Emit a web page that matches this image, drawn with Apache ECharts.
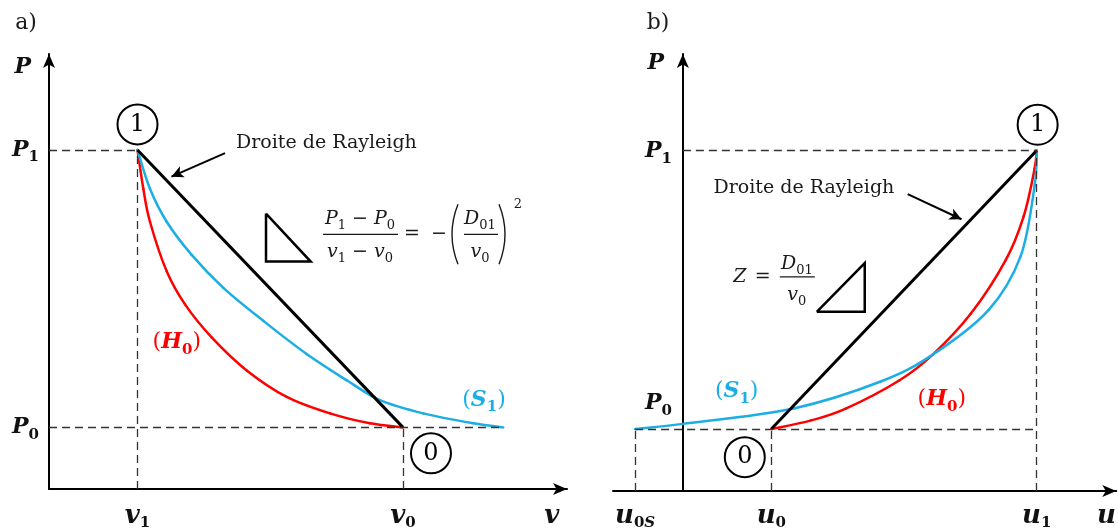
<!DOCTYPE html>
<html>
<head>
<meta charset="utf-8">
<script src="https://cdn.jsdelivr.net/npm/echarts@6/dist/echarts.min.js"></script>
<style>
  html, body { margin: 0; padding: 0; background: #fff; }
  #main { width: 1119px; height: 531px; }
</style>
</head>
<body>
<div id="main"></div>
<script>
// valeurs (unités arbitraires)
const P0 = 1, P1 = 5.5;
const v1 = 1, v0 = 4;
const u0s = -0.54, u0 = 1, u1 = 4;

// a) plan (v, P)
const h0A = [[1, 5.5], [1.066, 4.871], [1.141, 4.336], [1.33, 3.532], [1.537, 2.995], [1.838, 2.46], [2.234, 1.924], [2.686, 1.495], [3.175, 1.227], [3.627, 1.066], [4, 1]];
const s1A = [[1, 5.5], [1.141, 4.871], [1.33, 4.336], [1.612, 3.799], [1.97, 3.264], [2.422, 2.728], [2.911, 2.191], [3.364, 1.764], [3.74, 1.442], [4.229, 1.227], [4.795, 1.066], [5.133, 1]];
const rayleighA = [[v1, P1], [v0, P0]];
const triA = [[2.452, 4.469], [2.452, 3.69], [2.957, 3.69], [2.452, 4.469]];
const arrowA = [[1.989, 5.45], [1.383, 5.068]];
const statesA = [['1', 1, 5.916], ['0', 4.316, 0.579]];

// b) plan (u, P)
const s1B = [[u0s, 1], [0, 1.084], [1.254, 1.334], [2.237, 1.768], [2.825, 2.203], [3.458, 2.926], [3.819, 3.794], [3.977, 4.936], [4, 5.5]];
const h0B = [[1, 1], [1.45, 1.14], [1.842, 1.33], [2.441, 1.78], [2.825, 2.203], [3.254, 2.862], [3.65, 3.73], [3.853, 4.437], [3.977, 5.209], [4, 5.5]];
const rayleighB = [[u0, P0], [u1, P1]];
const triB = [[1.514, 2.894], [2.056, 2.894], [2.056, 3.682], [1.514, 2.894]];
const arrowB = [[2.542, 4.796], [3.15, 4.389]];
const statesB = [['1', 4.011, 5.916], ['0', 0.7, 0.547]];

// étiquettes des axes
const pTicksA = [P0, P1, 6.85];
const pLabelsA = ['P0', 'P1', 'P'];
const vTicks = [v1, v0, 5.68];
const vLabels = ['v1', 'v0', 'v'];
const pTicksB = [1.41, 5.48, 6.91];
const pLabelsB = ['P0', 'P1', 'P'];
const uTicks = [u0s, u0, u1, 4.79];
const uLabels = ['u0S', 'u0', 'u1', 'u'];

const RED = '#ff0000';
const BLUE = '#1aaee5';
const SERIF = 'DejaVu Serif';

const labelRich = {
  m: { fontFamily: SERIF, fontStyle: 'italic', fontWeight: 'bold', fontSize: 22, lineHeight: 30, color: '#111' },
  mp: { fontFamily: SERIF, fontStyle: 'italic', fontWeight: 'bold', fontSize: 22, lineHeight: 30, color: '#111', padding: [0, 8, 0, 0] },
  b: { fontFamily: SERIF, fontStyle: 'italic', fontWeight: 'bold', fontSize: 26, lineHeight: 30, color: '#111' },
  s: { fontFamily: SERIF, fontWeight: 'bold', fontSize: 15, lineHeight: 15, verticalAlign: 'bottom', color: '#111' },
  si: { fontFamily: SERIF, fontStyle: 'italic', fontWeight: 'bold', fontSize: 15, lineHeight: 15, verticalAlign: 'bottom', color: '#111' }
};

const fmtLabel = (name) => {
  if (name === 'P') return '{mp|P}';
  const big = name[0] === 'P' ? 'm' : 'b';
  let out = '{' + big + '|' + name[0] + '}';
  if (name[1]) out += '{s|' + name[1] + '}';
  if (name[2]) out += '{si|' + name[2] + '}';
  return out;
};
const tickFormatter = (ticks, labels) => (val) => {
  const i = ticks.findIndex(t => Math.abs(t - val) < 1e-6);
  return i < 0 ? '' : fmtLabel(labels[i]);
};

const axisLine = {
  onZero: true,
  symbol: ['none', 'arrow'],
  symbolSize: [9, 14],
  lineStyle: { color: '#000', width: 2 }
};

const dashStyle = { color: '#333', width: 1.3, type: [8, 5] };
const dashed = (segs, idx) => ({
  type: 'line', xAxisIndex: idx, yAxisIndex: idx, data: [], z: 1, silent: true,
  markLine: {
    silent: true, symbol: ['none', 'none'], label: { show: false },
    lineStyle: dashStyle, emphasis: { disabled: true },
    data: segs.map(s => [{ coord: s[0] }, { coord: s[1] }])
  }
});
const poly = (data, color, idx, width) => ({
  type: 'line', xAxisIndex: idx, yAxisIndex: idx, data,
  symbol: 'none', z: 3, silent: true, lineStyle: { color, width, join: 'miter' }
});
// courbe lisse (Catmull-Rom -> Bézier) passant par les points lus
const smoothCurve = (pts, color, idx) => ({
  type: 'custom', xAxisIndex: idx, yAxisIndex: idx, z: 3, silent: true, clip: false,
  data: pts,
  renderItem: (params, api) => {
    const i = params.dataIndex;
    if (i >= pts.length - 1) return null;
    const c = k => api.coord(pts[Math.max(0, Math.min(pts.length - 1, k))]);
    const p0 = c(i - 1), p1 = c(i), p2 = c(i + 1), p3 = c(i + 2);
    return {
      type: 'bezierCurve',
      shape: {
        x1: p1[0], y1: p1[1], x2: p2[0], y2: p2[1],
        cpx1: p1[0] + (p2[0] - p0[0]) / 6, cpy1: p1[1] + (p2[1] - p0[1]) / 6,
        cpx2: p2[0] - (p3[0] - p1[0]) / 6, cpy2: p2[1] - (p3[1] - p1[1]) / 6
      },
      style: { stroke: color, lineWidth: 2.5, fill: null, lineCap: 'round' }
    };
  }
});
const arrow = (pts, idx) => ({
  type: 'line', xAxisIndex: idx, yAxisIndex: idx, data: [], z: 4, silent: true,
  markLine: {
    silent: true, symbol: ['none', 'arrow'], symbolSize: [9, 12], label: { show: false },
    lineStyle: { color: '#000', width: 2, type: 'solid' }, emphasis: { disabled: true },
    data: [[{ coord: pts[0] }, { coord: pts[1] }]]
  }
});
const states = (list, idx) => ({
  type: 'scatter', xAxisIndex: idx, yAxisIndex: idx, z: 6, silent: true,
  symbolSize: 40,
  itemStyle: { color: '#fff', borderColor: '#000', borderWidth: 2, opacity: 1 },
  label: { show: true, position: 'inside', formatter: p => p.name, color: '#000', fontFamily: SERIF, fontSize: 24 },
  data: list.map(s => ({ name: s[0], value: [s[1], s[2]] }))
});

const option = {
  animation: false,
  backgroundColor: '#fff',
  grid: [
    { left: 49, right: 552, top: 54, bottom: 38 },
    { left: 613, right: 2, top: 54, bottom: 38 }
  ],
  xAxis: [
    { type: 'value', gridIndex: 0, min: 0, max: 5.853, axisLine, axisTick: { show: false }, splitLine: { show: false },
      axisLabel: { customValues: vTicks, margin: 12, formatter: tickFormatter(vTicks, vLabels), rich: labelRich } },
    { type: 'value', gridIndex: 1, min: -0.79, max: 4.9, axisLine, axisTick: { show: false }, splitLine: { show: false },
      axisLabel: { customValues: uTicks, margin: 10, formatter: tickFormatter(uTicks, uLabels), rich: labelRich } }
  ],
  yAxis: [
    { type: 'value', gridIndex: 0, min: 0, max: 7.058, axisLine, axisTick: { show: false }, splitLine: { show: false },
      axisLabel: { customValues: pTicksA, margin: 10, formatter: tickFormatter(pTicksA, pLabelsA), rich: labelRich } },
    { type: 'value', gridIndex: 1, min: 0, max: 7.058, axisLine, axisTick: { show: false }, splitLine: { show: false },
      axisLabel: { customValues: pTicksB, margin: -59, formatter: tickFormatter(pTicksB, pLabelsB), rich: labelRich } }
  ],
  series: [
    dashed([
      [[0, P1], [v1, P1]], [[v1, 0], [v1, P1]],
      [[0, P0], [s1A[s1A.length - 1][0], P0]], [[v0, 0], [v0, P0]]
    ], 0),
    smoothCurve(h0A, RED, 0),
    smoothCurve(s1A, BLUE, 0),
    poly(rayleighA, '#000', 0, 3),
    poly(triA, '#000', 0, 2.5),
    arrow(arrowA, 0),
    states(statesA, 0),

    dashed([
      [[0, P1], [u1, P1]], [[u1, 0], [u1, P1]],
      [[u0s, P0], [u1, P0]], [[u0s, 0], [u0s, P0]], [[u0, 0], [u0, P0]]
    ], 1),
    smoothCurve(h0B, RED, 1),
    smoothCurve(s1B, BLUE, 1),
    poly(rayleighB, '#000', 1, 3),
    poly(triB, '#000', 1, 2.5),
    arrow(arrowB, 1),
    states(statesB, 1)
  ]
};

const chart = echarts.init(document.getElementById('main'));
chart.setOption(option);

// annotations (ancrées en coordonnées de données)
const at = (g, x, y) => chart.convertToPixel({ gridIndex: g }, [x, y]);
const INK = '#1a1a1a';
const fRich = {
  i: { fontFamily: SERIF, fontStyle: 'italic', fontSize: 19, lineHeight: 26, fill: INK },
  n: { fontFamily: SERIF, fontSize: 19, lineHeight: 26, fill: INK },
  s: { fontFamily: SERIF, fontSize: 13, lineHeight: 13, verticalAlign: 'bottom', fill: INK }
};
const txt = (x, y, text, extra) => ({
  type: 'text', x, y, silent: true,
  style: Object.assign({ text, rich: fRich, fill: INK, align: 'center', verticalAlign: 'middle' }, extra || {})
});
const bar = (x1, x2, y) => ({
  type: 'line', silent: true, shape: { x1, y1: y, x2, y2: y }, style: { stroke: INK, lineWidth: 1.2 }
});
const paren = (x, y, dir) => ({
  type: 'bezierCurve', silent: true,
  shape: { x1: x + 4 * dir, y1: y - 30, x2: x + 4 * dir, y2: y + 30, cpx1: x - 8 * dir, cpy1: y },
  style: { stroke: INK, lineWidth: 1.4, fill: null }
});
const curveLabel = (g, x, y, letter, color) => {
  const p = at(g, x, y);
  return txt(p[0], p[1], '{p|(}{b|' + letter[0] + '}{s|' + letter[1] + '}{p|)}', {
    rich: {
      p: { fontFamily: SERIF, fontSize: 22, lineHeight: 30, fill: color },
      b: { fontFamily: SERIF, fontStyle: 'italic', fontWeight: 'bold', fontSize: 22, lineHeight: 30, fill: color },
      s: { fontFamily: SERIF, fontWeight: 'bold', fontSize: 15, lineHeight: 15, verticalAlign: 'bottom', fill: color }
    }
  });
};

const fa = at(0, 3.096, 4.132);
const fb = at(1, 1.096, 3.457);
const ra = at(0, 2.113, 5.61);
const rb = at(1, 0.346, 4.9);

const graphics = [
  txt(26, 23, 'a)', { rich: null, fontFamily: SERIF, fontSize: 22 }),
  txt(658, 23, 'b)', { rich: null, fontFamily: SERIF, fontSize: 22 }),
  txt(ra[0], ra[1], 'Droite de Rayleigh', { rich: null, fontFamily: SERIF, fontSize: 19, align: 'left' }),
  txt(rb[0], rb[1], 'Droite de Rayleigh', { rich: null, fontFamily: SERIF, fontSize: 19, align: 'left' }),
  curveLabel(0, 1.444, 2.373, 'H0', RED),
  curveLabel(0, 4.915, 1.447, 'S1', BLUE),
  curveLabel(1, 0.608, 1.611, 'S1', BLUE),
  curveLabel(1, 2.927, 1.479, 'H0', RED),

  // (P1 - P0)/(v1 - v0) = -(D01/v0)^2
  txt(fa[0] + 37, fa[1] - 15, '{i|P}{s|1}{n| − }{i|P}{s|0}'),
  bar(fa[0], fa[0] + 75, fa[1]),
  txt(fa[0] + 37, fa[1] + 18, '{i|v}{s|1}{n| − }{i|v}{s|0}'),
  txt(fa[0] + 89, fa[1], '{n|=}'),
  txt(fa[0] + 116, fa[1], '{n|−}'),
  paren(fa[0] + 131, fa[1], 1),
  txt(fa[0] + 157, fa[1] - 15, '{i|D}{s|01}'),
  bar(fa[0] + 141, fa[0] + 175, fa[1]),
  txt(fa[0] + 157, fa[1] + 18, '{i|v}{s|0}'),
  paren(fa[0] + 180, fa[1], -1),
  txt(fa[0] + 195, fa[1] - 30, '2', { rich: null, fontFamily: SERIF, fontSize: 13 }),

  // Z = D01/v0
  txt(fb[0] - 40, fb[1], '{i|Z}'),
  txt(fb[0] - 17, fb[1], '{n|=}'),
  txt(fb[0] + 17, fb[1] - 13, '{i|D}{s|01}'),
  bar(fb[0], fb[0] + 35, fb[1]),
  txt(fb[0] + 17, fb[1] + 18, '{i|v}{s|0}')
];
chart.setOption({ graphic: graphics });
</script>
</body>
</html>
